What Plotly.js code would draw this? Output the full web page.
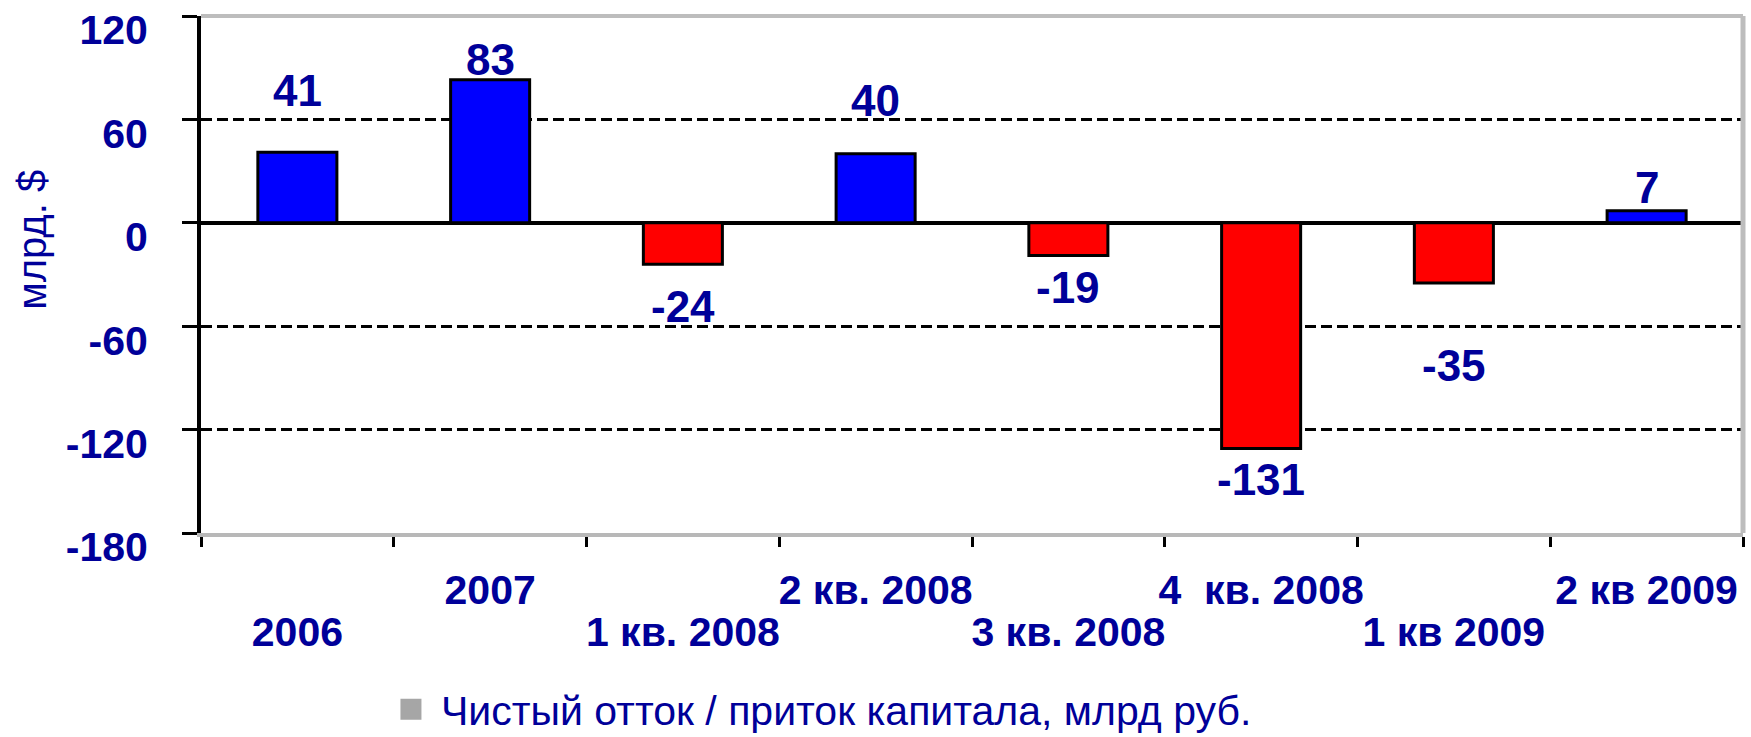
<!DOCTYPE html>
<html>
<head>
<meta charset="utf-8">
<script src="https://cdn.plot.ly/plotly-3.0.1.min.js"></script>
<style>
  html, body { margin: 0; padding: 0; background: #ffffff; }
  #chart { width: 1751px; height: 737px; }
</style>
</head>
<body>
<div id="chart"></div>
<script>
// ---- data ----
const categories = ['2006', '2007', '1 кв. 2008', '2 кв. 2008', '3 кв. 2008', '4\u00a0 кв. 2008', '1 кв 2009', '2 кв 2009'];
const values = [41, 83, -24, 40, -19, -131, -35, 7];
const yTickVals = [-180, -120, -60, 0, 60, 120];
const yTickLabels = ['-180', '-120', '-60', '0', '60', '120'];
const seriesName = 'Чистый отток / приток капитала, млрд руб.';
const yTitle = 'млрд. $';

// ---- styling (not data) ----
const labelShift = [62, 20, -42, 53, -32, -31, -82, 23];
const FONT = '"Liberation Sans", Arial, sans-serif';
const TXT = '#000099';

const idx = categories.map((c, i) => i);
// upper row of category labels (odd positions) on the main x axis
const upperText = categories.map((c, i) => (i % 2 === 1 ? c : ''));
// lower row (even positions) on an overlaid x axis
const lowerVals = idx.filter(i => i % 2 === 0);
const lowerText = lowerVals.map(i => categories[i]);

const bars = {
  type: 'bar',
  x: categories,
  y: values,
  width: 0.41,
  marker: {
    color: values.map(v => (v >= 0 ? '#0000ff' : '#ff0000')),
    line: { color: '#000000', width: 3 }
  },
  showlegend: false,
  hoverinfo: 'none'
};

// legend entry (grey square), carries no visible points; lives on the overlaid axis
const legendTrace = {
  type: 'scatter',
  mode: 'markers',
  x: idx,
  y: values.map(() => null),
  xaxis: 'x2',
  yaxis: 'y',
  name: seriesName,
  marker: { symbol: 'square', size: 16, color: '#a6a6a6', line: { color: '#a6a6a6', width: 5 } },
  showlegend: true,
  hoverinfo: 'none'
};

const annotations = values.map((v, i) => ({
  x: i,
  y: v,
  xref: 'x',
  yref: 'y',
  text: String(v),
  showarrow: false,
  yanchor: 'middle',
  yshift: labelShift[i],
  font: { family: FONT, size: 44, color: TXT, weight: 'bold' }
}));

annotations.push({
  xref: 'paper', yref: 'paper',
  x: -0.1096, y: 0.567,
  text: yTitle,
  textangle: -90,
  showarrow: false,
  xanchor: 'center', yanchor: 'middle',
  font: { family: FONT, size: 40, color: TXT }
});

const xTickFont = { family: FONT, size: 41, color: TXT, weight: 'bold' };

const layout = {
  width: 1751,
  height: 737,
  margin: { l: 201, r: 8, t: 16, b: 204, autoexpand: false },
  paper_bgcolor: '#ffffff',
  plot_bgcolor: '#ffffff',
  font: { family: FONT, color: TXT },
  xaxis: {
    type: 'category',
    range: [-0.5, 7.5],
    tickmode: 'array',
    tickvals: categories,
    ticktext: upperText,
    tickson: 'boundaries',
    ticks: 'outside',
    ticklen: 10,
    tickwidth: 3,
    tickcolor: '#000000',
    tickangle: 0,
    ticklabelstandoff: 18,
    showgrid: false,
    zeroline: false,
    showline: true,
    linecolor: '#b8b8b8',
    linewidth: 4,
    tickfont: xTickFont,
    automargin: false,
    fixedrange: true
  },
  xaxis2: {
    overlaying: 'x',
    anchor: 'y',
    side: 'bottom',
    type: 'linear',
    range: [-0.5, 7.5],
    tickmode: 'array',
    tickvals: lowerVals,
    ticktext: lowerText,
    ticks: '',
    tickangle: 0,
    ticklabelstandoff: 71,
    showgrid: false,
    zeroline: false,
    showline: false,
    tickfont: xTickFont,
    automargin: false,
    fixedrange: true
  },
  yaxis: {
    range: [-180, 120],
    tickmode: 'array',
    tickvals: yTickVals,
    ticktext: yTickLabels,
    ticks: 'outside',
    ticklen: 15,
    tickwidth: 3,
    tickcolor: '#000000',
    ticklabelshift: 14,
    ticklabelstandoff: 26,
    showgrid: true,
    gridcolor: '#000000',
    gridwidth: 3,
    griddash: '11px,5px',
    zeroline: true,
    zerolinecolor: '#000000',
    zerolinewidth: 3.5,
    showline: true,
    linecolor: '#000000',
    linewidth: 4,
    tickfont: { family: FONT, size: 41, color: TXT, weight: 'bold' },
    automargin: false,
    fixedrange: true
  },
  showlegend: true,
  legend: {
    orientation: 'h',
    x: 0.1167,
    xanchor: 'left',
    y: -0.277,
    yanchor: 'top',
    itemwidth: 50,
    bgcolor: 'rgba(0,0,0,0)',
    font: { family: FONT, size: 41, color: TXT }
  },
  shapes: [
    { type: 'line', xref: 'paper', yref: 'paper', x0: 0, x1: 1, y0: 1, y1: 1, line: { color: '#bdbdbd', width: 4 } },
    { type: 'line', xref: 'paper', yref: 'paper', x0: 1, x1: 1, y0: 0, y1: 1, line: { color: '#bdbdbd', width: 5 } }
  ],
  annotations: annotations
};

Plotly.newPlot('chart', [bars, legendTrace], layout, { staticPlot: true, displayModeBar: false });
</script>
</body>
</html>
